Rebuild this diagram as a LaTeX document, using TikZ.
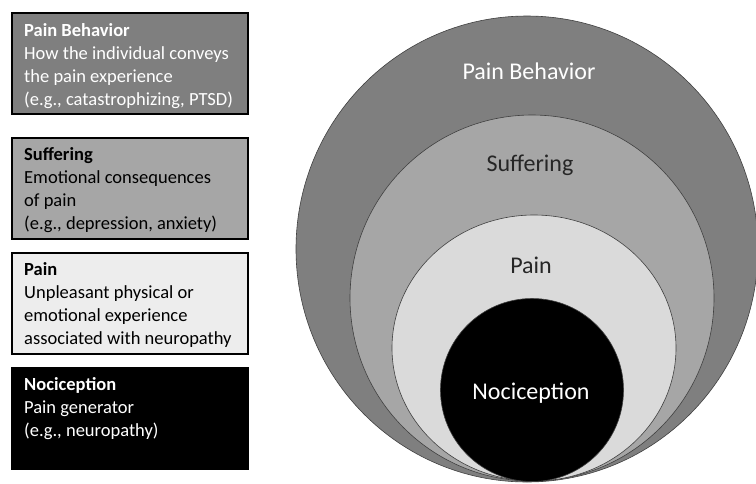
\documentclass[tikz,border=0pt]{standalone}
\usepackage{fontspec}
\setmainfont{Carlito}
\usepackage{tikz, xcolor}
\usetikzlibrary{positioning}

\definecolor{behaviorgray}{HTML}{7F7F7F}
\definecolor{sufferinggray}{HTML}{A6A6A6}
\definecolor{paingray}{HTML}{DADADA}
\definecolor{legendlight}{HTML}{EDEDED}

\begin{document}
\begin{tikzpicture}
	[
		x=1pt, y=-1pt,
		legendbox/.style={draw=black, line width=1.8pt, minimum width=236pt, minimum height=101pt, anchor=north west, inner sep=0pt},
		legendtext/.style={anchor=north west, inner sep=0pt, align=left, font=\fontsize{18.5}{23}\selectfont},
		ring/.style={draw=black!75, line width=0.6pt},
		ringlabel/.style={anchor=base, font=\fontsize{24}{28}\selectfont}
	]
	
	\useasboundingbox (0,0) rectangle (756,483);
	
	% Draw nested circles.
	\filldraw[ring, fill=behaviorgray] (527,249) ellipse [x radius=231, y radius=233];
	\filldraw[ring, fill=sufferinggray] (532,298) ellipse [x radius=182, y radius=183];
	\filldraw[ring, fill=paingray] (534,348) ellipse [x radius=142, y radius=133];
	\filldraw[ring, fill=black] (532,390) circle (91.5);
	
	% Circle labels.
	\node[ringlabel, text=white] (behaviorlabel) at (529,79) {Pain Behavior};
	\node[ringlabel, text=black!85] (sufferinglabel) at (530,171) {Suffering};
	\node[ringlabel, text=black!85] (painlabel) at (531,273) {Pain};
	\node[ringlabel, text=white] (nociceptionlabel) at (531,399) {Nociception};
	
	% Draw legend boxes.
	\node[legendbox, fill=behaviorgray] (behaviorbox) at (11,12) {};
	\node[legendbox, fill=sufferinggray] (sufferingbox) at (11,137) {};
	\node[legendbox, fill=legendlight] (painbox) at (11,252) {};
	\node[legendbox, fill=black] (nociceptionbox) at (11,367) {};
	
	% Legend texts.
	\node[legendtext, text=white, below right=11pt and 13pt of behaviorbox.north west] (behaviortext)
		{\textbf{Pain Behavior}\\How the individual conveys\\the pain experience\\(e.g., catastrophizing, PTSD)};
	\node[legendtext, text=black, below right=10pt and 13pt of sufferingbox.north west] (sufferingtext)
		{\textbf{Suffering}\\Emotional consequences\\of pain\\(e.g., depression, anxiety)};
	\node[legendtext, text=black, below right=10pt and 13pt of painbox.north west] (paintext)
		{\textbf{Pain}\\Unpleasant physical or\\emotional experience\\associated with neuropathy};
	\node[legendtext, text=white, below right=10pt and 13pt of nociceptionbox.north west] (nociceptiontext)
		{\textbf{Nociception}\\Pain generator\\(e.g., neuropathy)};
\end{tikzpicture}
\end{document}
